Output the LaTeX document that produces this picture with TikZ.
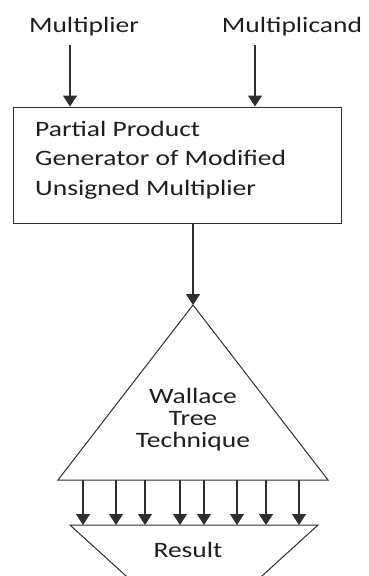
\documentclass[tikz,border=0pt]{standalone}
\usepackage{fontspec}
\setmainfont[FakeStretch=1.25]{Carlito}
\usetikzlibrary{arrows.meta}
\definecolor{ln}{HTML}{2E2E2E}
\definecolor{txt}{HTML}{1E1E1E}
\begin{document}
\begin{tikzpicture}[x=1pt,y=-1pt,
  lbl/.style={inner sep=0pt, text=txt, font=\fontsize{22}{22}\selectfont},
  conn/.style={line width=1.2pt, draw=ln, -{Triangle[length=11pt,width=14pt]}},
  shp/.style={draw=ln, line width=1pt}]
\useasboundingbox (0,0) rectangle (368,576);
\clip (0,0) rectangle (368,576);
% input labels
\node[lbl, anchor=base] (mult) at (84,32) {Multiplier};
\node[lbl, anchor=base] (mcand) at (292,32) {Multiplicand};
\coordinate (a1) at (70,45);
\coordinate (a2) at (255,45);
% partial product generator box
\node[shp, minimum width=328pt, minimum height=116pt, inner sep=0pt] (box) at (177,165) {};
\node[lbl, anchor=base west, align=left, font=\fontsize{22}{29.5}\selectfont] (boxtxt) at (35,195)
  {Partial Product\\Generator of Modified\\Unsigned Multiplier};
\draw[conn] (a1) -- (a1 |- box.north);
\draw[conn] (a2) -- (a2 |- box.north);
% Wallace tree triangle
\coordinate (apex) at (193,305);
\coordinate (bl) at (58,480);
\coordinate (br) at (328,480);
\draw[shp] (apex) -- (bl) -- (br) -- cycle;
\node[lbl, anchor=base, align=center] (wt) at (193,447) {Wallace\\Tree\\Technique};
\draw[conn] (box.south -| apex) -- (apex);
% result trapezoid
\coordinate (tl) at (70,525);
\coordinate (tr) at (318,525);
\coordinate (dl) at (141.5,590);
\coordinate (dr) at (246.5,590);
\draw[shp] (dl) -- (tl) -- (tr) -- (dr);
\node[lbl, anchor=base] (res) at (188,557) {Result};
% output arrows
\foreach \i/\x in {1/83,2/116,3/145,4/180,5/204,6/237,7/266,8/299}{
  \coordinate (o\i) at (\x,480);
  \draw[conn] (o\i) -- (o\i |- tl);
}
\end{tikzpicture}
\end{document}
